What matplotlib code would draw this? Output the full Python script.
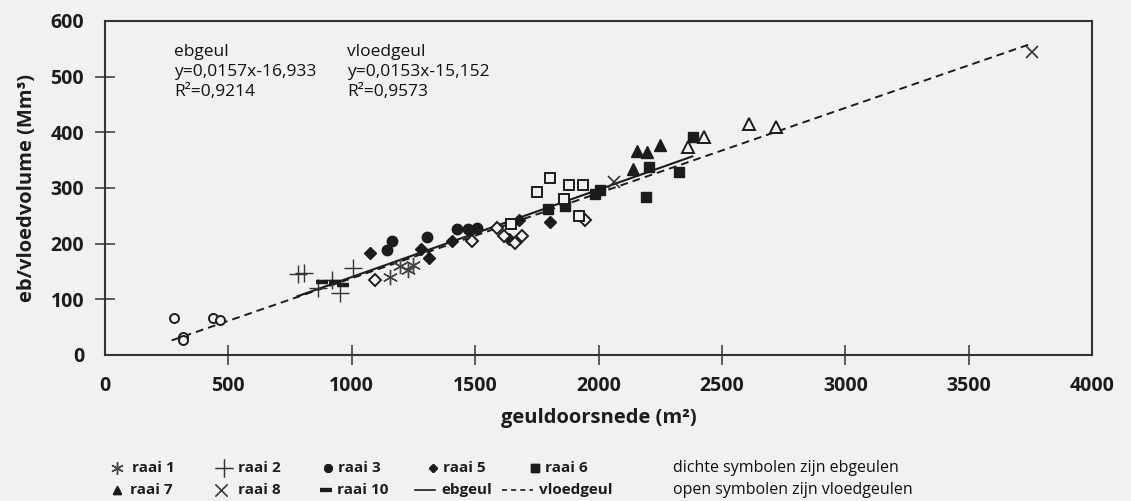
import matplotlib
matplotlib.use("Agg")
import matplotlib.pyplot as plt
from matplotlib.lines import Line2D
import numpy as np

plt.rcParams['font.family'] = ['Open Sans', 'DejaVu Sans']

# meetpunten per raai: (geuldoorsnede m2, volume Mm3)
raai1_x = [1155, 1195, 1229, 1249]
raai1_y = [141, 159, 153, 162]

raai2_x = [782, 806, 863, 918, 952, 1005]
raai2_y = [145, 148, 120, 135, 111, 156]

raai3_eb_x = [1141, 1162, 1303, 1428, 1472, 1509]
raai3_eb_y = [189, 204, 212, 226, 226, 229]
raai3_vl_x = [280, 318, 318, 437, 466]
raai3_vl_y = [66, 33, 27, 66, 63]

raai5_eb_x = [1074, 1279, 1314, 1405, 1639, 1679, 1803]
raai5_eb_y = [184, 191, 175, 205, 208, 242, 239]
raai5_vl_x = [1094, 1489, 1587, 1617, 1661, 1688, 1947]
raai5_vl_y = [135, 204, 228, 214, 201, 214, 242]

raai6_eb_x = [1797, 1864, 1985, 2006, 2206, 2192, 2327, 2381]
raai6_eb_y = [262, 268, 289, 297, 338, 283, 329, 391]
raai6_vl_x = [1647, 1749, 1803, 1861, 1880, 1938, 1920]
raai6_vl_y = [235, 292, 318, 280, 306, 306, 250]

raai7_eb_x = [2138, 2158, 2195, 2249]
raai7_eb_y = [335, 366, 364, 377]
raai7_vl_x = [2361, 2427, 2610, 2721]
raai7_vl_y = [374, 392, 415, 409]

raai8_x = [2062, 3755]
raai8_y = [310, 545]

raai10_x = [878, 932, 964]
raai10_y = [132, 132, 126]

# regressielijnen (coefficienten zoals in de tekst, x per 10 m2)
eb_coef = (0.0157, -16.933)
vloed_coef = (0.0153, -15.152)
x_factor = 10
eb_range = [780, 2380]
vloed_range = [270, 3750]

ink = '#1c1c1c'
bg = '#f1f2ef'

fig = plt.figure(figsize=(11.31, 5.01), dpi=100, facecolor=bg)
W, H = 1131, 501
ax = fig.add_axes([105 / W, 1 - 355 / H, (1092 - 105) / W, (355 - 21) / H])
ax.set_facecolor(bg)

# lijnen
xe = np.array(eb_range)
ax.plot(xe, eb_coef[0] * x_factor * xe + eb_coef[1], color=ink, lw=1.5, zorder=3)
xv = np.array(vloed_range)
ax.plot(xv, vloed_coef[0] * x_factor * xv + vloed_coef[1], color=ink, lw=1.4,
        dashes=(4, 2.6), zorder=3)

ms = 7.5
open_kw = dict(ls='none', mfc=bg, mec=ink, mew=1.4, zorder=4)
fill_kw = dict(ls='none', mfc=ink, mec=ink, zorder=4)

ax.plot(raai1_x, raai1_y, marker=(6, 2, 0), ms=11, mec='#444444', mew=1.0,
        ls='none', zorder=4)
ax.plot(raai2_x, raai2_y, marker='+', ms=13, mec='#333333', mew=1.0,
        ls='none', zorder=4)
ax.plot(raai3_eb_x, raai3_eb_y, marker='o', ms=ms, **fill_kw)
ax.plot(raai3_vl_x, raai3_vl_y, marker='o', ms=6.5, **open_kw)
ax.plot(raai5_eb_x, raai5_eb_y, marker='D', ms=6.3, **fill_kw)
ax.plot(raai5_vl_x, raai5_vl_y, marker='D', ms=6.3, **open_kw)
ax.plot(raai6_eb_x, raai6_eb_y, marker='s', ms=ms, **fill_kw)
ax.plot(raai6_vl_x, raai6_vl_y, marker='s', ms=ms, **open_kw)
ax.plot(raai7_eb_x, raai7_eb_y, marker='^', ms=8.5, **fill_kw)
ax.plot(raai7_vl_x, raai7_vl_y, marker='^', ms=8.5, **open_kw)
ax.plot(raai8_x, raai8_y, marker='x', ms=9, mec='#333333', mew=1.2,
        ls='none', zorder=4)
ax.plot(raai10_x, raai10_y, marker='_', ms=9, mec=ink, mew=3.2,
        ls='none', zorder=4)

ax.set_xlim(0, 4000)
ax.set_ylim(0, 600)
ax.set_xticks(np.arange(0, 4001, 500))
ax.set_yticks(np.arange(0, 601, 100))
ax.tick_params(direction='inout', length=14, width=1.1, color='#333333',
               labelsize=14, labelcolor=ink)
ax.tick_params(axis='x', pad=8)
ax.tick_params(axis='y', pad=8)
for lab in ax.get_xticklabels() + ax.get_yticklabels():
    lab.set_fontweight('bold')
for t in (ax.xaxis.get_major_ticks()[0], ax.xaxis.get_major_ticks()[-1],
          ax.yaxis.get_major_ticks()[0], ax.yaxis.get_major_ticks()[-1]):
    t.tick1line.set_visible(False)
for s in ax.spines.values():
    s.set_color('#333333')
    s.set_linewidth(1.5)

ax.set_xlabel('geuldoorsnede (m²)', fontsize=14.5, fontweight='bold',
              color=ink, labelpad=9)
ax.set_ylabel('eb/vloedvolume (Mm³)', fontsize=14.5, fontweight='bold',
              color=ink, labelpad=10)

# vergelijkingen
txt_kw = dict(fontsize=12.5, color='#111111', va='top', linespacing=1.32,
              transform=fig.transFigure)
fig.text(174 / W, 1 - 44 / H,
         'ebgeul\ny=0,0157x-16,933\nR²=0,9214', **txt_kw)
fig.text(347 / W, 1 - 44 / H,
         'vloedgeul\ny=0,0153x-15,152\nR²=0,9573', **txt_kw)


# legenda onder de grafiek
def key(x, y, text_x, text, **kw):
    fig.add_artist(Line2D([x[0] / W, x[1] / W], [1 - y / H, 1 - y / H],
                          transform=fig.transFigure, **kw))
    fig.text(text_x / W, 1 - y / H, text, fontsize=11, fontweight='bold',
             color=ink, va='center', ha='left')


r1, r2 = 468, 490
key([117, 117], r1, 132, 'raai 1', marker=(6, 2, 0), ms=9, mec='#444444',
    mew=0.9, ls='none')
key([224, 224], r1, 238, 'raai 2', marker='+', ms=13, mec='#333333',
    mew=0.9, ls='none')
key([328, 328], r1, 338, 'raai 3', marker='o', ms=5.5, mfc=ink, mec=ink,
    ls='none')
key([433, 433], r1, 443, 'raai 5', marker='D', ms=4.5, mfc=ink, mec=ink,
    ls='none')
key([535, 535], r1, 545, 'raai 6', marker='s', ms=5.5, mfc=ink, mec=ink,
    ls='none')
key([117, 117], r2, 130, 'raai 7', marker='^', ms=6, mfc=ink, mec=ink,
    ls='none')
key([221, 221], r2, 238, 'raai 8', marker='x', ms=9, mec='#333333',
    mew=0.9, ls='none')
key([326, 326], r2, 337, 'raai 10', marker='_', ms=8, mec=ink, mew=3,
    ls='none')
key([415, 435], r2, 441, 'ebgeul', color=ink, lw=1.2)
key([502, 533], r2, 539, 'vloedgeul', color=ink, lw=1.2, dashes=(3, 2.5))
fig.text(673 / W, 1 - r1 / H, 'dichte symbolen zijn ebgeulen', fontsize=11.5,
         color='#111111', va='center')
fig.text(673 / W, 1 - r2 / H, 'open symbolen zijn vloedgeulen', fontsize=11.5,
         color='#111111', va='center')

fig.savefig('out.png', dpi=100, facecolor=bg)
